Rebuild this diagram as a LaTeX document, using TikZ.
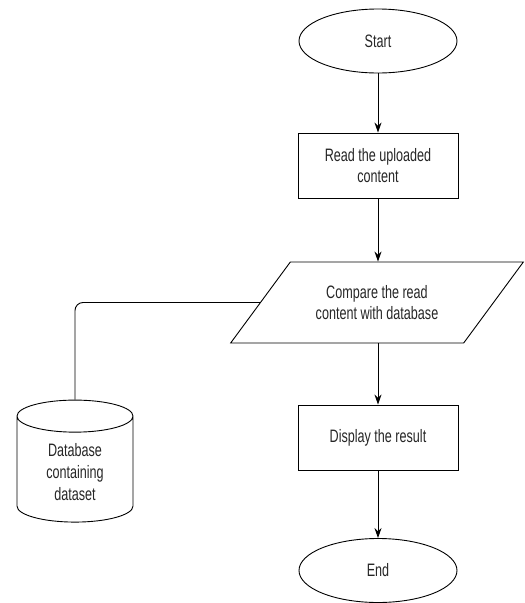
\documentclass[tikz,border=0pt]{standalone}
\usepackage{fontspec}
\setmainfont[FakeStretch=0.7]{Liberation Sans}
\usepackage{tikz}
\usetikzlibrary{shapes.geometric,arrows.meta}

\tikzset{
  terminal/.style={draw, ellipse, minimum width=158pt, minimum height=64pt, inner sep=0pt},
  process/.style={draw, rectangle, minimum width=160pt, minimum height=65pt, align=center},
  inout/.style={draw, trapezium, trapezium left angle=43, trapezium right angle=137,
    trapezium stretches=true, minimum width=293pt, minimum height=81pt, align=center},
  store/.style={draw, cylinder, shape border rotate=90, aspect=0.5,
    minimum width=116pt, minimum height=122pt, align=center},
  flow/.style={-{Stealth[length=10pt,width=7pt]}},
}

\begin{document}
\begin{tikzpicture}[x=1pt, y=-1pt, line width=0.9pt,
  every node/.style={font=\fontsize{18}{21.6}\selectfont, text=black!85}]

	\useasboundingbox (0,0) rectangle (525,603);

	% main column
	\node[terminal] (start) at (378,41) {Start};
	\node[process] (read) at (378,165.5) {Read the uploaded\\content};
	\node[inout] (comp) at (377,302.5) {Compare the read\\content with database};
	\node[process] (disp) at (378,437.5) {Display the result};
	\node[terminal] (stop) at (378,570.5) {End};

	% data store
	\node[store] (db) at (75,472) {Database\\containing\\dataset};

	\draw[flow] (start) -- (read);
	\draw[flow] (read) -- (read |- comp.north);
	\draw[flow] (read |- comp.south) -- (disp);
	\draw[flow] (disp) -- (stop);
	\draw[rounded corners=8pt] (comp.west) -| (db.north);

\end{tikzpicture}
\end{document}
